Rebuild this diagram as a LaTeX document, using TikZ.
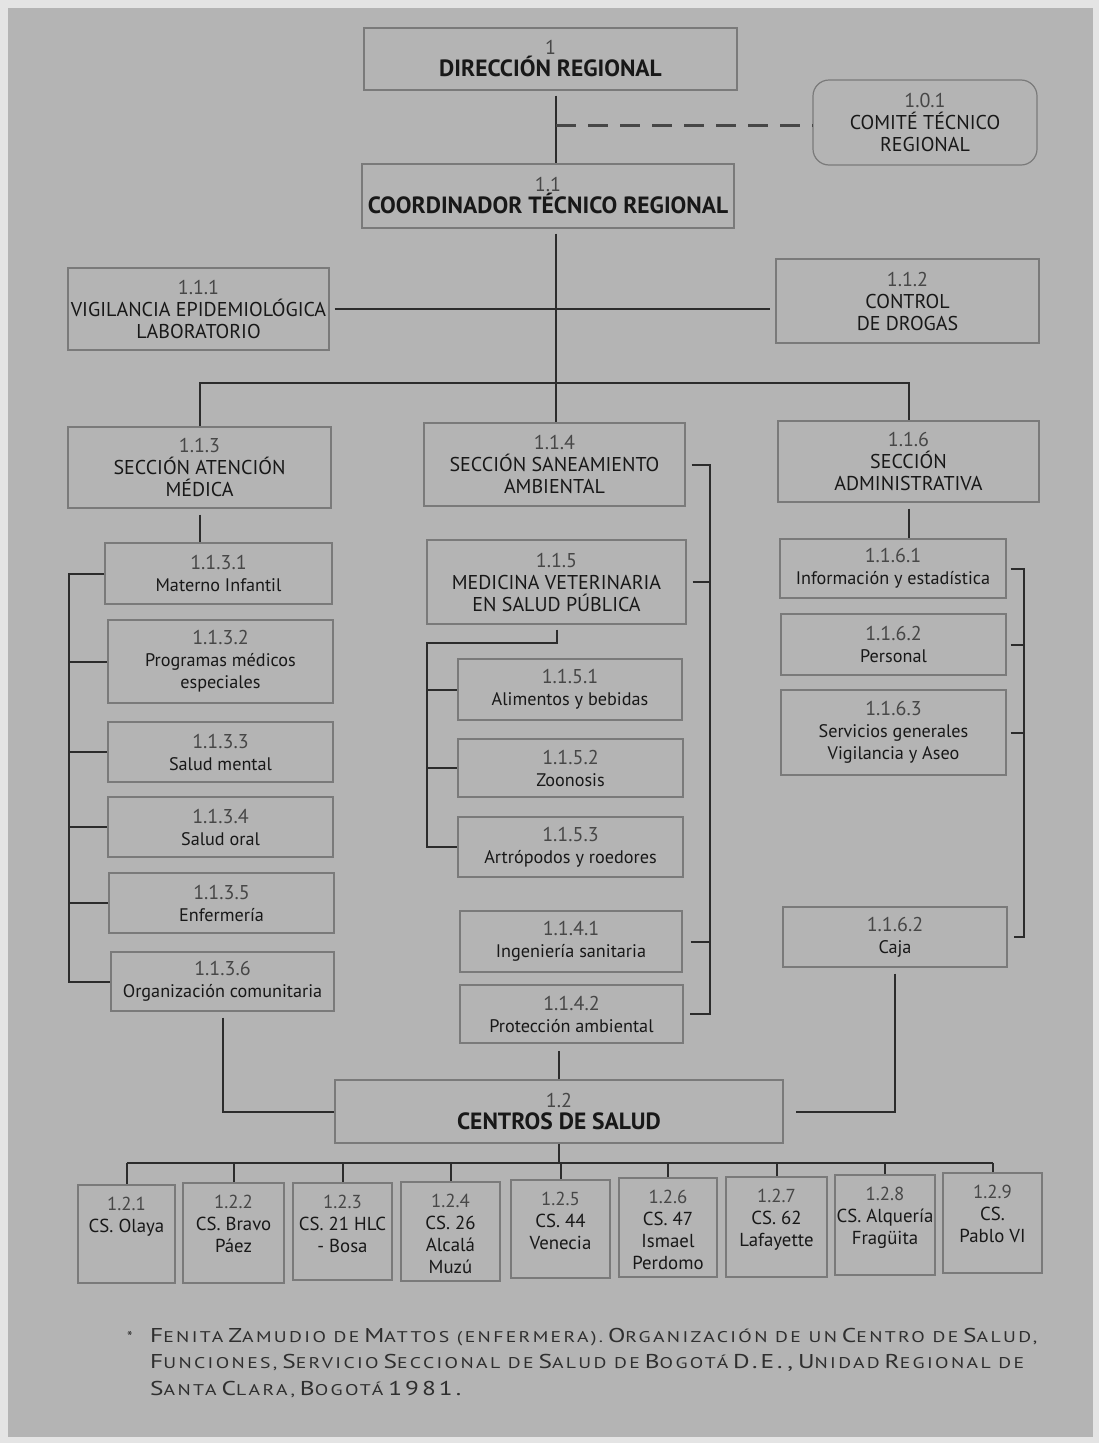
\documentclass[tikz,border=0pt]{standalone}
\usepackage{fontspec}
\usepackage{graphicx}
\setmainfont{PT Sans}
\newfontfamily\footf{PT Sans}[LetterSpace=12]
\usetikzlibrary{calc}
\definecolor{bgc}{HTML}{B4B4B4}
\definecolor{outc}{HTML}{E4E4E4}
\definecolor{boxc}{HTML}{7A7A7A}
\definecolor{linec}{HTML}{2C2C2C}
\definecolor{txtc}{HTML}{181818}
\definecolor{numc}{HTML}{474747}
\newcommand\nm[1]{{\color{numc}#1}}
\newcommand\lc{\fontsize{18.2}{22}\selectfont}
\newcommand\titlef{\fontsize{23.5}{24}\selectfont\bfseries}
\newcommand\scu[1]{{\fontsize{20}{24}\selectfont #1}}
\newcommand\scl[1]{{\fontsize{15.5}{24}\selectfont #1}}
\tikzset{
  box/.style={draw=boxc, line width=1.2pt, inner sep=0pt, align=center, text=txtc, font=\fontsize{20}{22}\selectfont},
  conn/.style={draw=linec, line width=2pt},
  dashconn/.style={draw=linec!80!bgc, line width=2.6pt, dash pattern=on 20pt off 12pt},
  cstxt/.style={inner sep=0pt, align=center, text=txtc, font=\fontsize{18.8}{22}\selectfont},
  foot/.style={inner sep=0pt, text=txtc!85!bgc, font=\footf}
}
\newcommand\bx[7][]{\node[box,#1, minimum width={(#5-#3)*1pt}, minimum height={(#6-#4)*1pt}] (#2) at ({(#3+#5)/2},{(#4+#6)/2}) {#7};}
\newcommand\ct[2]{\node[cstxt, anchor=north] (t#1) at ([yshift=-12pt]c#1.north) {#2};}
\newcommand\fl[1]{\scalebox{1.27}[1]{#1}}
\begin{document}
\begin{tikzpicture}[x=1pt,y=-1pt]
\useasboundingbox (0,0) rectangle (1099,1443);
\fill[outc] (0,0) rectangle (1099,1443);
\fill[bgc] (8,8) rectangle (1093,1437);

% boxes
\bx{dir}{364}{28}{737}{90}{\nm{1}\\\titlef DIRECCIÓN REGIONAL}
\bx[rounded corners=16pt]{comite}{813}{80}{1037}{165}{\nm{1.0.1}\\COMITÉ TÉCNICO\\REGIONAL}
\bx{coord}{362}{164}{734}{228}{\nm{1.1}\\\titlef COORDINADOR TÉCNICO REGIONAL}
\bx{vig}{68}{268}{329}{350}{\nm{1.1.1}\\VIGILANCIA EPIDEMIOLÓGICA\\LABORATORIO}
\bx{ctl}{776}{259}{1039}{343}{\nm{1.1.2}\\CONTROL\\DE DROGAS}
\bx{s113}{68}{427}{331}{508}{\nm{1.1.3}\\SECCIÓN ATENCIÓN\\MÉDICA}
\bx{s114}{424}{423}{685}{506}{\nm{1.1.4}\\SECCIÓN SANEAMIENTO\\AMBIENTAL}
\bx{s116}{778}{421}{1039}{502}{\nm{1.1.6}\\SECCIÓN\\ADMINISTRATIVA}
\bx{s1131}{105}{543}{332}{604}{\nm{1.1.3.1}\\\lc Materno Infantil}
\bx{s1132}{108}{620}{333}{703}{\nm{1.1.3.2}\\\lc Programas médicos\\\lc especiales}
\bx{s1133}{108}{722}{333}{782}{\nm{1.1.3.3}\\\lc Salud mental}
\bx{s1134}{108}{797}{333}{857}{\nm{1.1.3.4}\\\lc Salud oral}
\bx{s1135}{109}{873}{334}{933}{\nm{1.1.3.5}\\\lc Enfermería}
\bx{s1136}{111}{952}{334}{1011}{\nm{1.1.3.6}\\\lc Organización comunitaria}
\bx{s115}{427}{540}{686}{624}{\nm{1.1.5}\\MEDICINA VETERINARIA\\EN SALUD PÚBLICA}
\bx{s1151}{458}{659}{682}{720}{\nm{1.1.5.1}\\\lc Alimentos y bebidas}
\bx{s1152}{458}{739}{683}{797}{\nm{1.1.5.2}\\\lc Zoonosis}
\bx{s1153}{458}{817}{683}{877}{\nm{1.1.5.3}\\\lc Artrópodos y roedores}
\bx{s1141}{460}{911}{682}{972}{\nm{1.1.4.1}\\\lc Ingeniería sanitaria}
\bx{s1142}{460}{985}{683}{1043}{\nm{1.1.4.2}\\\lc Protección ambiental}
\bx{s1161}{780}{539}{1006}{598}{\nm{1.1.6.1}\\\lc Información y estadística}
\bx{s1162}{781}{614}{1006}{675}{\nm{1.1.6.2}\\\lc Personal}
\bx{s1163}{781}{690}{1006}{775}{\nm{1.1.6.3}\\\lc Servicios generales\\\lc Vigilancia y Aseo}
\bx{caja}{783}{907}{1007}{967}{\nm{1.1.6.2}\\\lc Caja}
\bx{cs}{335}{1080}{783}{1143}{\nm{1.2}\\\titlef CENTROS DE SALUD}

\bx{c1}{78}{1185}{175}{1283}{}
\bx{c2}{183}{1183}{284}{1283}{}
\bx{c3}{293}{1183}{392}{1280}{}
\bx{c4}{401}{1182}{500}{1281}{}
\bx{c5}{511}{1180}{610}{1278}{}
\bx{c6}{619}{1178}{717}{1277}{}
\bx{c7}{726}{1177}{827}{1277}{}
\bx{c8}{835}{1175}{935}{1275}{}
\bx{c9}{943}{1173}{1042}{1273}{}
\ct{1}{\nm{1.2.1}\\CS. Olaya}
\ct{2}{\nm{1.2.2}\\CS. Bravo\\Páez}
\ct{3}{\nm{1.2.3}\\CS. 21 HLC\\- Bosa}
\ct{4}{\nm{1.2.4}\\CS. 26\\Alcalá\\Muzú}
\ct{5}{\nm{1.2.5}\\CS. 44\\Venecia}
\ct{6}{\nm{1.2.6}\\CS. 47\\Ismael\\Perdomo}
\ct{7}{\nm{1.2.7}\\CS. 62\\Lafayette}
\ct{8}{\nm{1.2.8}\\CS. Alquería\\Fragüita}
\ct{9}{\nm{1.2.9}\\CS.\\Pablo VI}

% junction coordinates
\coordinate (v1) at (556,0);
\coordinate (h2) at (0,383);
\coordinate (bL) at (69,0);
\coordinate (bM) at (710,0);
\coordinate (bR) at (1024,0);
\coordinate (bV) at (427,643);
\coordinate (hb) at (0,1163);

% connectors top
\draw[conn] ([yshift=-5pt]v1 |- dir.south) -- (v1 |- coord.north);
\draw[dashconn] ([yshift=-3pt]v1 |- comite.west) -- ([yshift=-3pt]comite.west);
\draw[conn] ([yshift=-5pt]v1 |- coord.south) -- (v1 |- s114.north);
\draw[conn] ([xshift=5pt]vig.east) -- ([xshift=-5pt]ctl.west |- vig.east);
\draw[conn] (s113.north) -- (s113.north |- h2) -- (s116.north |- h2) -- (s116.north);

% left column
\draw[conn] ([yshift=-6pt]s113.south) -- (s113.south |- s1131.north);
\draw[conn] (s1131.west) -- (s1131.west -| bL) -- (s1136.west -| bL) -- (s1136.west);
\foreach \n in {s1132,s1133,s1134,s1135} \draw[conn] (\n.west -| bL) -- (\n.west);

% middle column
\draw[conn] ([xshift=6pt]s114.east) -- (s114.east -| bM) -- (s1142.east -| bM) -- ([xshift=6pt]s1142.east);
\draw[conn] ([xshift=6pt]s115.east) -- (s115.east -| bM);
\draw[conn] ([xshift=8pt]s1141.east) -- (s1141.east -| bM);
\draw[conn] ([yshift=-5pt]s115.south) -- (s115.south |- bV) -- (bV) -- (bV |- s1153.west) -- (s1153.west);
\foreach \n in {s1151,s1152} \draw[conn] (bV |- \n.west) -- (\n.west);

% right column
\draw[conn] ([yshift=-6pt]s116.south) -- (s116.south |- s1161.north);
\draw[conn] ([xshift=4pt]s1161.east) -- (s1161.east -| bR) -- (caja.east -| bR) -- ([xshift=6pt]caja.east);
\foreach \n in {s1162,s1163} \draw[conn] ([xshift=4pt]\n.east) -- (\n.east -| bR);

% to centros de salud
\draw[conn] ([yshift=-6pt]s1136.south) |- (cs.west);
\draw[conn] (cs.north) -- ([yshift=-7pt]cs.north |- s1142.south);
\draw[conn] ([yshift=-6pt]caja.south) |- ([xshift=12pt]cs.east);

% bottom tree
\draw[conn] (cs.south) -- (cs.south |- hb);
\draw[conn] (c1.north |- hb) -- (c9.north |- hb);
\foreach \n in {c1,c2,c3,c4,c5,c6,c7,c8,c9} \draw[conn] (\n.north |- hb) -- (\n.north);

% footnote
\node[foot, anchor=base west] (f0) at (127,1342) {\scl{*}};
\node[foot, anchor=base west] (f1) at (150,1342) {\fl{\scu{F}\scl{ENITA} \scu{Z}\scl{AMUDIO DE} \scu{M}\scl{ATTOS (ENFERMERA).} \scu{O}\scl{RGANIZACIÓN DE UN} \scu{C}\scl{ENTRO DE} \scu{S}\scl{ALUD,}}};
\node[foot, anchor=base west] (f2) at (150,1368) {\fl{\scu{F}\scl{UNCIONES,} \scu{S}\scl{ERVICIO} \scu{S}\scl{ECCIONAL DE} \scu{S}\scl{ALUD DE} \scu{B}\scl{OGOTÁ} \scu{D.E.,} \scu{U}\scl{NIDAD} \scu{R}\scl{EGIONAL DE}}};
\node[foot, anchor=base west] (f3) at (150,1395) {\fl{\scu{S}\scl{ANTA} \scu{C}\scl{LARA,} \scu{B}\scl{OGOTÁ} \scu{1981.}}};
\end{tikzpicture}
\end{document}
